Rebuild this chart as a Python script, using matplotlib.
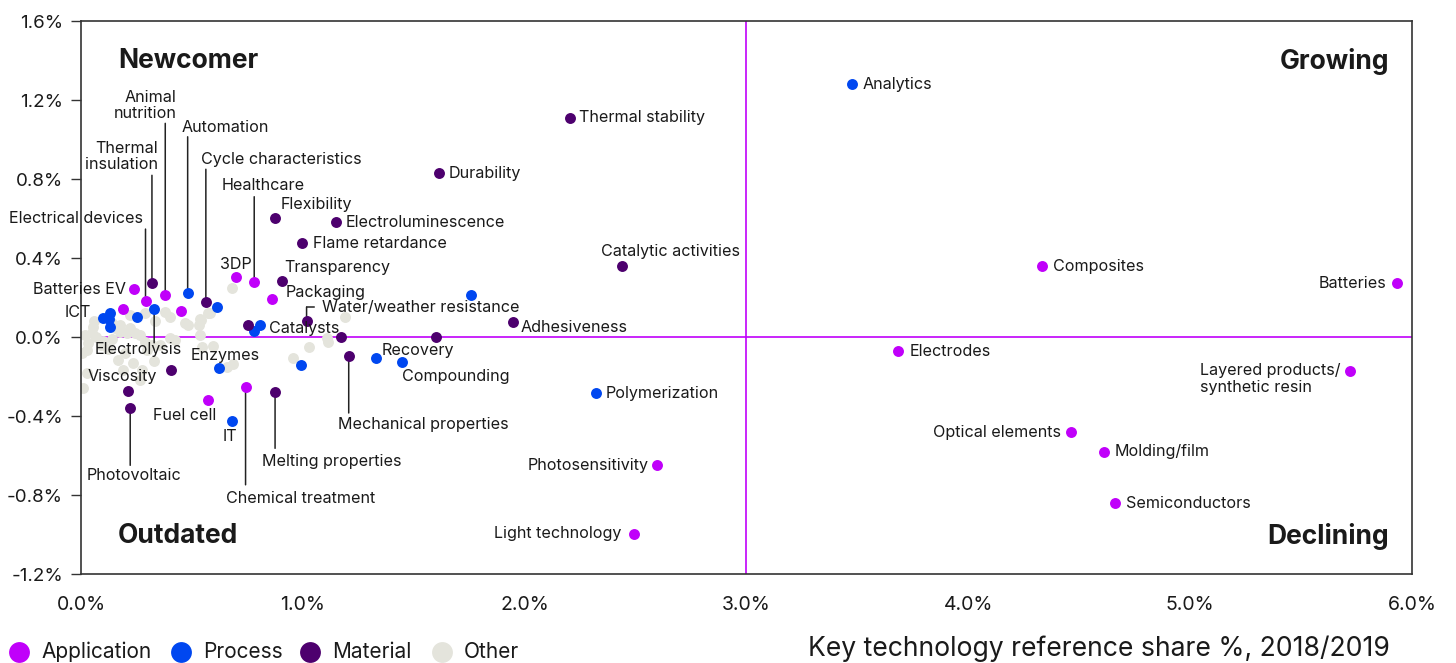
import matplotlib
matplotlib.use("Agg")
import matplotlib.pyplot as plt
from matplotlib.lines import Line2D
from matplotlib.transforms import offset_copy

plt.rcParams['font.family'] = ['Inter', 'DejaVu Sans']

# ---------------- data (x: reference share %, y: change %) ----------------
app_names = ["Batteries", "Layered products/\nsynthetic resin", "Composites", "Electrodes",
             "Optical elements", "Molding/film", "Semiconductors", "Photosensitivity",
             "Light technology", "3DP", "Healthcare", "Packaging", "Batteries EV",
             "Electrical devices", "Animal\nnutrition", "", "", "Fuel cell", "Chemical treatment"]
app_x = [5.932, 5.721, 4.333, 3.685, 4.464, 4.613, 4.662, 2.595, 2.495, 0.701, 0.781, 0.862,
         0.240, 0.291, 0.380, 0.191, 0.450, 0.571, 0.742]
app_y = [0.273, -0.172, 0.359, -0.071, -0.481, -0.582, -0.841, -0.648, -0.997, 0.302, 0.280,
         0.192, 0.242, 0.182, 0.211, 0.142, 0.133, -0.321, -0.252]

proc_names = ["Analytics", "Polymerization", "", "Recovery", "Compounding", "", "Enzymes", "IT",
              "Catalysts", "", "Automation", "", "Electrolysis", "ICT", "", "", "", ""]
proc_x = [3.477, 2.320, 1.760, 1.329, 1.449, 0.990, 0.622, 0.680, 0.809, 0.781, 0.481, 0.613,
          0.330, 0.100, 0.131, 0.128, 0.131, 0.251]
proc_y = [1.281, -0.284, 0.213, -0.108, -0.128, -0.140, -0.157, -0.424, 0.062, 0.032, 0.224,
          0.152, 0.143, 0.098, 0.123, 0.090, 0.052, 0.103]

mat_names = ["Thermal stability", "Durability", "Catalytic activities", "Adhesiveness",
             "Flexibility", "Electroluminescence", "Flame retardance", "Transparency",
             "Thermal\ninsulation", "Cycle characteristics", "", "Water/weather resistance",
             "", "", "Mechanical properties", "", "Viscosity", "Photovoltaic", "Melting properties"]
mat_x = [2.203, 1.613, 2.437, 1.946, 0.874, 1.149, 0.995, 0.905, 0.320, 0.563, 0.754, 1.017,
         1.173, 1.599, 1.207, 0.404, 0.210, 0.222, 0.875]
mat_y = [1.109, 0.830, 0.359, 0.076, 0.603, 0.582, 0.476, 0.284, 0.272, 0.176, 0.061, 0.081,
         0.000, 0.000, -0.096, -0.166, -0.275, -0.361, -0.280]

other_x = [0.056, 0.018, 0.026, 0.003, 0.100, 0.140, 0.153, 0.176, 0.176, 0.206, 0.220, 0.243,
           0.266, 0.288, 0.288, 0.296, 0.318, 0.356, 0.378, 0.400, 0.400, 0.423, 0.468, 0.483,
           0.536, 0.544, 0.573, 0.679, 0.168, 0.190, 0.266, 0.010, 0.026, 0.236, 0.273, 0.580,
           0.540, 0.530, 0.596, 0.660, 0.686, 0.956, 1.030, 1.107, 1.114, 1.190, 0.220, 0.333,
           0.536, 0.048, 0.070, 0.090, 0.120, 0.060, 0.030, 0.140, 0.200, 0.330]
other_y = [0.052, 0.010, -0.066, -0.083, -0.019, 0.070, 0.044, 0.061, 0.027, 0.019, 0.044, 0.019,
           0.010, 0.120, -0.024, -0.066, -0.040, -0.040, 0.128, 0.100, -0.007, -0.015, 0.069, 0.061,
           0.010, -0.049, 0.120, 0.250, -0.116, -0.167, -0.218, -0.260, -0.184, -0.133, -0.167, 0.123,
           0.086, 0.061, -0.046, -0.150, -0.137, -0.108, -0.052, -0.003, -0.024, 0.100, 0.111, 0.083,
           0.090, 0.020, 0.000, -0.040, -0.060, 0.080, -0.030, -0.010, -0.080, -0.120]

categories = ["Application", "Process", "Material", "Other"]
x_ticks = [0.0, 1.0, 2.0, 3.0, 4.0, 5.0, 6.0]
y_ticks = [-1.2, -0.8, -0.4, 0.0, 0.4, 0.8, 1.2, 1.6]
quadrants = ["Newcomer", "Growing", "Outdated", "Declining"]
x_title = "Key technology reference share %, 2018/2019"

# ---------------- style ----------------
COL = {"Application": "#C000FA", "Process": "#0047F0", "Material": "#4D006E", "Other": "#E4E4DC"}
ACCENT = "#C000FA"
TXT = "#1a1a1a"
LEAD = "#222222"

# label layout: name -> (dx px, dy px (up), ha, multialign, leader length px (+up / -down) or None)
LAY = {
    "Batteries": (-11, 0, "right", "right", None),
    "Layered products/\nsynthetic resin": (-10, -8, "right", "left", None),
    "Composites": (11, 0, "left", "left", None),
    "Electrodes": (11, 0, "left", "left", None),
    "Optical elements": (-10, 0, "right", "right", None),
    "Molding/film": (10, 0, "left", "left", None),
    "Semiconductors": (11, 0, "left", "left", None),
    "Photosensitivity": (-8, 0, "right", "right", None),
    "Light technology": (-13, 0, "right", "right", None),
    "3DP": (-1, 13, "center", "center", None),
    "Healthcare": (-33, 96, "left", "left", 85),
    "Packaging": (13, 7, "left", "left", None),
    "Batteries EV": (-8, 0, "right", "right", None),
    "Electrical devices": (-3, 83, "right", "right", 72),
    "Animal\nnutrition": (11, 190, "right", "right", 172),
    "Fuel cell": (-23, -15, "center", "center", None),
    "Chemical treatment": (-20, -112, "left", "left", -98),
    "Analytics": (10, 0, "left", "left", None),
    "Polymerization": (10, 0, "left", "left", None),
    "Recovery": (6, 8, "left", "left", None),
    "Compounding": (0, -14, "left", "left", None),
    "Enzymes": (6, 13, "center", "center", None),
    "IT": (-2, -16, "center", "center", None),
    "Catalysts": (9, -4, "left", "left", None),
    "Automation": (-6, 165, "left", "left", 156),
    "Electrolysis": (-16, -41, "center", "center", -34),
    "ICT": (-12, 5, "right", "right", None),
    "Thermal stability": (9, 0, "left", "left", None),
    "Durability": (10, 0, "left", "left", None),
    "Catalytic activities": (-21, 15, "left", "left", None),
    "Adhesiveness": (8, -5, "left", "left", None),
    "Flexibility": (6, 13, "left", "left", None),
    "Electroluminescence": (10, 0, "left", "left", None),
    "Flame retardance": (11, 0, "left", "left", None),
    "Transparency": (3, 13, "left", "left", None),
    "Thermal\ninsulation": (6, 127, "right", "right", 108),
    "Cycle characteristics": (-5, 143, "left", "left", 133),
    "Water/weather resistance": (15, 14, "left", "left", "elbow"),
    "Mechanical properties": (-11, -69, "left", "left", -57),
    "Viscosity": (-5, 15, "center", "center", None),
    "Photovoltaic": (-44, -67, "left", "left", -57),
    "Melting properties": (-13, -69, "left", "left", -56),
}

fig = plt.figure(figsize=(14.56, 6.63), dpi=100)
ax = fig.add_axes([0.0556, 0.1342, 0.9142, 0.8341])

ax.set_xlim(0, 6.0)
ax.set_ylim(-1.2, 1.6)

ax.axhline(0, color=ACCENT, lw=1.2, zorder=1)
ax.axvline(3.0, color=ACCENT, lw=1.2, zorder=1)

S = 62
ax.scatter(other_x, other_y, s=S, color=COL["Other"], lw=0, zorder=2)
ax.scatter(app_x, app_y, s=S, color=COL["Application"], lw=0, zorder=4)
ax.scatter(proc_x, proc_y, s=S, color=COL["Process"], lw=0, zorder=4)
ax.scatter(mat_x, mat_y, s=S, color=COL["Material"], lw=0, zorder=4)

LFS = 11.6
for names, xs, ys in [(app_names, app_x, app_y), (proc_names, proc_x, proc_y), (mat_names, mat_x, mat_y)]:
    for n, x, y in zip(names, xs, ys):
        if not n:
            continue
        dx, dy, ha, ma, lead = LAY[n]
        ax.annotate(n, xy=(x, y), xytext=(dx, dy), textcoords="offset pixels",
                    ha=ha, va="center", fontsize=LFS, color=TXT, multialignment=ma,
                    linespacing=1.1, zorder=5)
        if lead == "elbow":
            ax.annotate("", xy=(x, y), xytext=(0, 14), textcoords="offset pixels",
                        arrowprops=dict(arrowstyle="-", color=LEAD, lw=1.1, shrinkA=0, shrinkB=0), zorder=3)
            tr = offset_copy(ax.transData, fig=fig, x=0, y=14 * 0.72, units="points")
            ax.plot([x, x + 7 / 222], [y, y], color=LEAD, lw=1.1, transform=tr, zorder=3)
        elif lead is not None:
            ax.annotate("", xy=(x, y), xytext=(0, lead), textcoords="offset pixels",
                        arrowprops=dict(arrowstyle="-", color=LEAD, lw=1.1, shrinkA=0, shrinkB=0), zorder=3)

# quadrant titles
qkw = dict(fontsize=19, fontweight="bold", color=TXT, va="center")
ax.text(0.0278, 0.927, quadrants[0], transform=ax.transAxes, ha="left", **qkw)
ax.text(0.9826, 0.927, quadrants[1], transform=ax.transAxes, ha="right", **qkw)
ax.text(0.0278, 0.0687, quadrants[2], transform=ax.transAxes, ha="left", **qkw)
ax.text(0.9826, 0.0687, quadrants[3], transform=ax.transAxes, ha="right", **qkw)

ax.set_xticks(x_ticks)
ax.set_xticklabels([f"{v:.1f}%" for v in x_ticks])
ax.set_yticks(y_ticks)
ax.set_yticklabels([f"{v:.1f}%" for v in y_ticks])
ax.tick_params(axis="y", length=7, width=1, color="#333333", labelsize=13.5, labelcolor=TXT, pad=6)
ax.tick_params(axis="x", length=0, labelsize=14, labelcolor=TXT, pad=16)
for sp in ax.spines.values():
    sp.set_color("#333333")
    sp.set_linewidth(1.2)

# x title
fig.text(1390 / 1456, 1 - 649 / 663, x_title, ha="right", va="center", fontsize=19.1, color=TXT)

# legend (manual placement in figure pixels)
leg_marker_px = [19, 181, 310, 442]
leg_text_px = [41, 203, 332, 464]
leg_y = 1 - 652 / 663
for c, mx, tx in zip(categories, leg_marker_px, leg_text_px):
    fig.add_artist(Line2D([mx / 1456], [leg_y], marker="o", ls="", markersize=15,
                          markerfacecolor=COL[c], markeredgewidth=0, transform=fig.transFigure))
    fig.text(tx / 1456, leg_y, c, ha="left", va="center", fontsize=15, color=TXT)

fig.savefig("out.png", dpi=100)
